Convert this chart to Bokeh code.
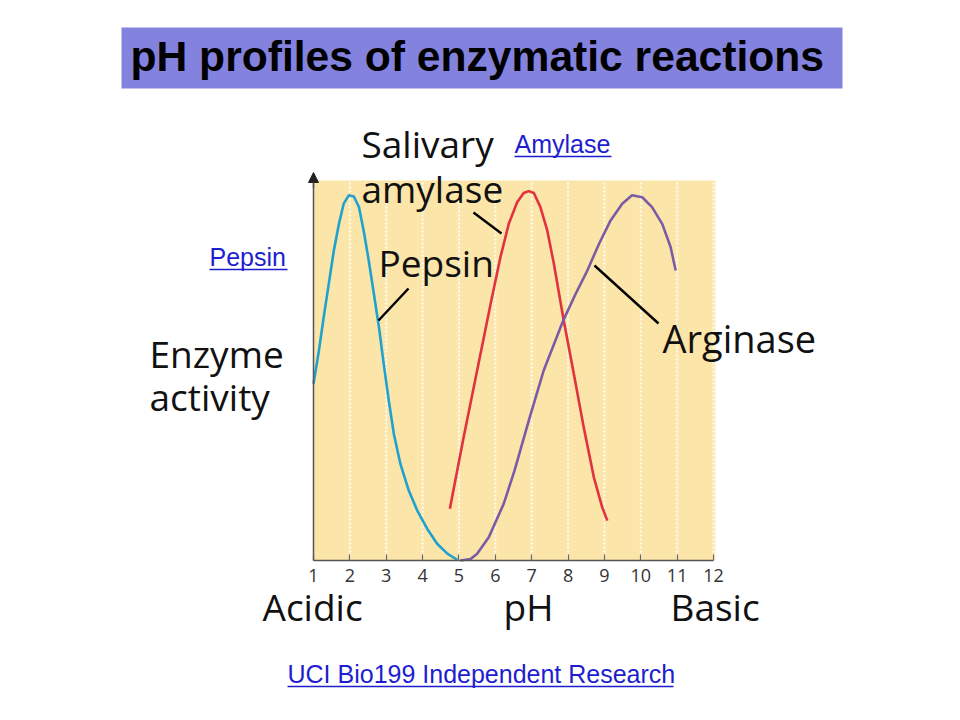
from bokeh.plotting import figure
from bokeh.models import Range1d, LinearAxis, FixedTicker, BoxAnnotation, Arrow, NormalHead
from bokeh.core.properties import value
from bokeh.embed import file_html
from bokeh.resources import INLINE

# ---------------- data ----------------
ph_ticks = [1, 2, 3, 4, 5, 6, 7, 8, 9, 10, 11, 12]
grid_ph = [2, 3, 4, 5, 6, 7, 8, 9, 10, 11, 12]

pepsin_ph = [1.00, 1.15, 1.28, 1.42, 1.56, 1.70, 1.83, 1.97, 2.11, 2.25, 2.38, 2.52,
             2.66, 2.80, 2.93, 3.07, 3.21, 3.39, 3.62, 3.85, 4.13, 4.40, 4.68, 4.95]
pepsin_act = [0.465, 0.553, 0.640, 0.728, 0.816, 0.886, 0.939, 0.961, 0.958, 0.930, 0.868, 0.789,
              0.702, 0.614, 0.518, 0.421, 0.333, 0.254, 0.184, 0.132, 0.083, 0.044, 0.018, 0.002]

amylase_ph = [4.75, 5.13, 5.50, 5.87, 6.14, 6.37, 6.60, 6.78, 6.92, 7.06, 7.24, 7.43,
              7.61, 7.88, 8.16, 8.43, 8.71, 8.94, 9.08]
amylase_act = [0.136, 0.325, 0.500, 0.675, 0.798, 0.886, 0.943, 0.967, 0.972, 0.967, 0.930, 0.868,
               0.781, 0.632, 0.491, 0.351, 0.219, 0.140, 0.105]

arginase_ph = [5.04, 5.32, 5.50, 5.82, 6.23, 6.53, 6.92, 7.33, 7.87, 8.21, 8.53, 8.85,
               9.17, 9.49, 9.76, 10.04, 10.31, 10.59, 10.82, 10.96]
arginase_act = [0.000, 0.004, 0.018, 0.061, 0.149, 0.237, 0.368, 0.500, 0.632, 0.702, 0.763, 0.833,
                0.895, 0.939, 0.961, 0.956, 0.930, 0.886, 0.825, 0.763]

# ---------------- layout helpers (page pixels -> data) ----------------
W, H = 944, 704
OFF = 0              # page offset of the canvas
PX_PER_PH = 400 / 11.0
PX_PER_ACT = 380.0
X_PIX_PH1 = 313      # page x of pH 1
Y_PIX_ACT0 = 560     # page y of activity 0


def xd(px):
    return 1 + (px - X_PIX_PH1) / PX_PER_PH


def yd(py):
    return (Y_PIX_ACT0 - py) / PX_PER_ACT


p = figure(width=W, height=H, output_backend="svg", toolbar_location=None,
           x_range=Range1d(xd(OFF), xd(OFF + W)), y_range=Range1d(yd(OFF + H), yd(OFF)),
           x_axis_type=None, y_axis_type=None, min_border=0)
p.outline_line_color = None
p.xgrid.visible = False
p.ygrid.visible = False
p.background_fill_color = "white"
p.border_fill_color = "white"


def lab(text, px, py, size, color="#111111", font="Open Sans", style="normal"):
    # py is the wanted baseline; the svg text sits ~0.38em lower than asked
    fs = float(size.replace("px", ""))
    p.text(x=[xd(px)], y=[yd(py - 0.38 * fs)], text=[text], text_font=value(font),
           text_font_size=value(size), text_font_style=style, text_color=color,
           text_baseline="alphabetic", text_align="left")


# title box
p.add_layout(BoxAnnotation(left=xd(121), right=xd(842), top=yd(27), bottom=yd(88),
                           fill_color="#8383DF", fill_alpha=1.0, line_color=None, level="underlay"))
lab("pH profiles of enzymatic reactions", 130, 72, "42.6px", "black", "Liberation Sans", "bold")

# plot background
p.quad(left=1, right=12.05, bottom=0, top=1.0, fill_color="#FCE5A9", line_color=None)
p.segment(x0=grid_ph, y0=[0] * len(grid_ph), x1=grid_ph, y1=[1.0] * len(grid_ph),
          line_color="white", line_width=2, line_dash="2 2", line_alpha=0.9)

# curves
p.line(pepsin_ph, pepsin_act, line_color="#1FA2CF", line_width=2.6)
p.line(amylase_ph, amylase_act, line_color="#E1323F", line_width=2.6)
p.line(arginase_ph, arginase_act, line_color="#7B5BA6", line_width=2.6)

# axes
xaxis = LinearAxis(fixed_location=0, bounds=(1, 12), ticker=FixedTicker(ticks=ph_ticks),
                   major_tick_in=6, major_tick_out=0, minor_tick_line_color=None,
                   axis_line_color="#555555", axis_line_width=1.5,
                   major_tick_line_color="#666666", major_tick_line_width=1.2,
                   major_label_text_font="Open Sans", major_label_text_font_size="18px",
                   major_label_text_color="#333333", major_label_standoff=8)
p.add_layout(xaxis, "below")
yaxis = LinearAxis(fixed_location=1, bounds=(0, 1.0), ticker=FixedTicker(ticks=[]),
                   major_tick_line_color=None, minor_tick_line_color=None,
                   axis_line_color="#555555", axis_line_width=1.5,
                   major_label_text_font_size="0px")
p.add_layout(yaxis, "left")
p.add_layout(Arrow(end=NormalHead(size=10, fill_color="#222222", line_color="#222222"),
                   line_color="#555555", line_width=1.5,
                   x_start=1, y_start=0.98, x_end=1, y_end=yd(172)))

# leader lines
p.segment(x0=[xd(378), xd(473), xd(594)], y0=[yd(320), yd(212), yd(265)],
          x1=[xd(408), xd(501), xd(658)], y1=[yd(288), yd(233), yd(323)],
          line_color="black", line_width=2.4)

lab("Salivary", 361, 157, "37px")
lab("amylase", 361, 202, "37px")
lab("Pepsin", 378, 276, "37px")
lab("Arginase", 662, 352, "38px")
lab("Enzyme", 149, 367, "37px")
lab("activity", 149, 410, "37px")
lab("Acidic", 262, 620, "37px")
lab("pH", 503, 620, "37px")
lab("Basic", 670, 620, "37px")

# links
LINK = "#1E1ECF"
lab("Amylase", 514, 153, "25px", LINK, "Liberation Sans")
lab("Pepsin", 209, 266, "25px", LINK, "Liberation Sans")
lab("UCI Bio199 Independent Research", 287, 683, "25px", LINK, "Liberation Sans")
p.segment(x0=[xd(514), xd(209), xd(287)], y0=[yd(156), yd(269), yd(686)],
          x1=[xd(611), xd(287), xd(673)], y1=[yd(156), yd(269), yd(686)],
          line_color=LINK, line_width=1.5)

open("out.html", "w").write(file_html(p, INLINE))
